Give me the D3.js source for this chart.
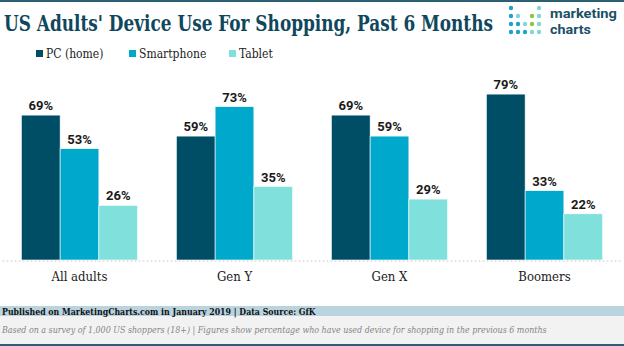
<!DOCTYPE html>
<html>
<head>
<meta charset="utf-8">
<script src="https://cdn.jsdelivr.net/npm/d3@7"></script>
<style>
  html, body { margin: 0; padding: 0; background: #fff; }
  svg { display: block; }
  .serif { font-family: "DejaVu Serif Condensed", "DejaVu Serif", serif; font-stretch: condensed; }
</style>
</head>
<body>
<script>
const categories = ["All adults", "Gen Y", "Gen X", "Boomers"];
const seriesNames = ["PC (home)", "Smartphone", "Tablet"];
const pcHome = [69, 59, 69, 79];
const smartphone = [53, 73, 59, 33];
const tablet = [26, 35, 29, 22];
const seriesColors = ["#004e66", "#00a9cc", "#80e0dc"];
const title = "US Adults' Device Use For Shopping, Past 6 Months";
const sourceText = "Published on MarketingCharts.com in January 2019 | Data Source: GfK";
const noteText = "Based on a survey of 1,000 US shoppers (18+) | Figures show percentage who have used device for shopping in the previous 6 months";

const W = 624, H = 346;
const svg = d3.select("body").append("svg").attr("width", W).attr("height", H);

// fit a text element horizontally to a target width via transform
function fitWidth(sel, x, yPos, target) {
  const w = sel.node().getComputedTextLength();
  const k = target / w;
  sel.attr("x", 0).attr("y", 0).attr("transform", `translate(${x},${yPos}) scale(${k},1)`);
}

svg.append("rect").attr("x", 0).attr("y", 0).attr("width", W).attr("height", 2).attr("fill", "#2b5f73");

// Title
const titleSel = svg.append("text").attr("class", "serif")
  .attr("font-size", 23).attr("font-weight", "bold")
  .attr("fill", "#0f475c").text(title);
fitWidth(titleSel, 4, 31, 489);

// Logo
const dotCols = [511, 518, 525, 532, 539];
const dotRows = [8, 16, 24, 32];
const blue = "#1ea2c9", light = "#7fd6dc", green = "#8cc63f";
const dotGrid = [
  [blue, null, null, null, light],
  [blue, light, null, green, light],
  [blue, blue, light, green, light],
  [blue, blue, blue, light, light]
];
dotGrid.forEach((row, ri) => row.forEach((c, ci) => {
  if (c) svg.append("circle").attr("cx", dotCols[ci]).attr("cy", dotRows[ri]).attr("r", 2.2).attr("fill", c);
}));
const mk = svg.append("text").attr("font-family", "Roboto, sans-serif")
  .attr("font-weight", "bold").attr("font-size", 13.5).attr("fill", "#1b4f66").text("marketing");
fitWidth(mk, 550, 18, 67);
const ch = svg.append("text").attr("font-family", "Roboto, sans-serif")
  .attr("font-weight", "bold").attr("font-size", 13.5).attr("fill", "#1b4f66").text("charts");
fitWidth(ch, 550, 33.5, 41);

// Legend
const legendX = [36, 129, 229];
const legend = svg.append("g");
seriesNames.forEach((name, i) => {
  legend.append("rect").attr("x", legendX[i]).attr("y", 50).attr("width", 7).attr("height", 7).attr("fill", seriesColors[i]);
  legend.append("text").attr("class", "serif").attr("x", legendX[i] + 10).attr("y", 57.5)
    .attr("font-size", 12).attr("fill", "#222").text(name);
});

// Scales
const y = d3.scaleLinear().domain([0, 100]).range([260, 50]);
const x0 = d3.scaleBand().domain(categories).range([2, 622]).paddingInner(0.25).paddingOuter(0.125);
const x1 = d3.scaleBand().domain(seriesNames).range([0, x0.bandwidth()]).padding(0);

const data = categories.map((c, i) => ({ cat: c, vals: [pcHome[i], smartphone[i], tablet[i]] }));

const groups = svg.append("g").selectAll("g").data(data).join("g")
  .attr("transform", d => `translate(${x0(d.cat)},0)`);

groups.selectAll("rect").data(d => d.vals.map((v, i) => ({ v, s: seriesNames[i], i })))
  .join("rect")
  .attr("x", d => x1(d.s))
  .attr("y", d => y(d.v))
  .attr("width", x1.bandwidth())
  .attr("height", d => y(0) - y(d.v))
  .attr("fill", d => seriesColors[d.i])
  .attr("stroke", "#fff").attr("stroke-width", 0.6);

groups.selectAll("text.val").data(d => d.vals.map((v, i) => ({ v, s: seriesNames[i] })))
  .join("text").attr("class", "val")
  .attr("x", d => x1(d.s) + x1.bandwidth() / 2)
  .attr("y", d => y(d.v) - 5)
  .attr("text-anchor", "middle")
  .attr("font-family", "Roboto, sans-serif").attr("font-weight", "bold")
  .attr("font-size", 13).attr("fill", "#1a1a1a")
  .text(d => d.v + "%");

// X axis
const xAxis = svg.append("g").attr("transform", "translate(0,260.5)")
  .call(d3.axisBottom(x0).tickSize(0).tickPadding(11));
xAxis.select(".domain").attr("stroke", "#d0d0d0").attr("stroke-dasharray", "2,2");
xAxis.selectAll("text").attr("class", "serif").attr("font-size", 13).attr("fill", "#222");

// Footer
svg.append("rect").attr("x", 0).attr("y", 306).attr("width", W).attr("height", 10).attr("fill", "#b9d3df");
svg.append("rect").attr("x", 0).attr("y", 316).attr("width", W).attr("height", 28).attr("fill", "#f2f2f2");
svg.append("rect").attr("x", 0).attr("y", 344).attr("width", W).attr("height", 2).attr("fill", "#2b5f73");
const src = svg.append("text").attr("class", "serif")
  .attr("font-size", 10).attr("font-weight", "bold").attr("fill", "#111").text(sourceText);
fitWidth(src, 2, 314.5, 314);
const note = svg.append("text").attr("class", "serif")
  .attr("font-size", 9.5).attr("font-style", "italic").attr("fill", "#858585").text(noteText);
fitWidth(note, 2, 333, 546);
</script>
</body>
</html>
